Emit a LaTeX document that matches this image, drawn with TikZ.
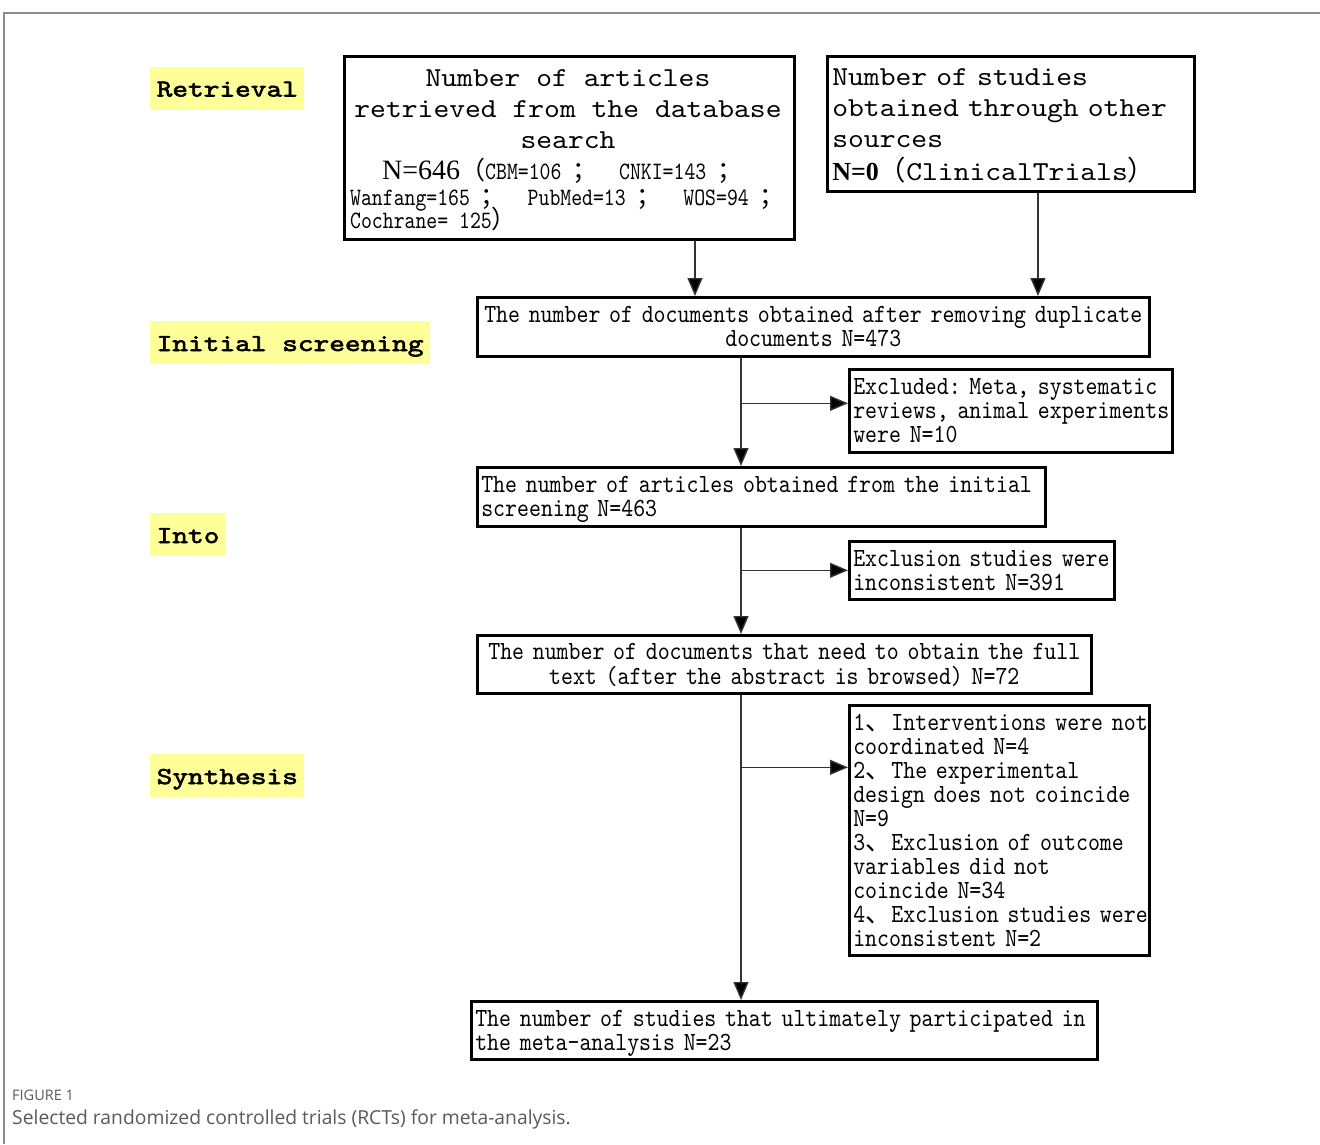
\documentclass[tikz,border=0pt]{standalone}
\usepackage{fontspec}
\usetikzlibrary{arrows.meta}
\newfontfamily\smono[FakeStretch=0.868]{lmmono10-regular.otf}
\newfontfamily\tmono[FakeStretch=0.83]{lmmono10-regular.otf}
\newfontfamily\bmono[FakeStretch=1.1]{lmmono10-regular.otf}
\newfontfamily\lmono[FakeStretch=1.23,FakeBold=2.5]{lmmono10-regular.otf}
\newfontfamily\cjk{Noto Sans CJK SC}
\newfontfamily\tnr{Liberation Serif}
\newfontfamily\capfont{Open Sans}
\newcommand\myS{\smono\fontsize{26.2}{24}\selectfont}
\newcommand\myT{\tmono\fontsize{25}{24}\selectfont}
\newcommand\myB{\bmono\fontsize{27.4}{31}\selectfont}
\newcommand\myL{\lmono\fontsize{24.3}{26}\selectfont}
\newcommand\lefttab[1]{\raisebox{-3pt}[\height][\depth]{\begin{tabular}{@{}l@{}}#1\end{tabular}}}
\newcommand\centtab[1]{\raisebox{-3pt}[\height][\depth]{\begin{tabular}{@{}c@{}}#1\end{tabular}}}
\definecolor{hl}{HTML}{FFFF99}
\definecolor{frame}{HTML}{8C8C8C}
\definecolor{conn}{HTML}{333333}
\definecolor{captxt}{HTML}{5A5A5A}
\begin{document}
\frenchspacing
\begin{tikzpicture}[x=1pt,y=-1pt,
  box/.style={draw=black, line width=2.6pt, rectangle, anchor=north west,
    inner xsep=4pt, inner ysep=0pt, font=\myS},
  lab/.style={fill=hl, font=\myL, anchor=west, minimum height=43pt,
    inner xsep=6.5pt, inner ysep=0pt, text height=18pt, text depth=1pt},
  arr/.style={draw=conn, line width=1.4pt, -{Triangle[length=18pt,width=15pt,fill=black]}}
]
\useasboundingbox[fill=white] (0,0) rectangle (1320,1144);
% outer frame
\draw[frame, line width=2pt] (4,1144) -- (4,13) -- (1320,13);

% stage labels
\node[lab] (lret) at (150,88) {Retrieval};
\node[lab] (lini) at (150,342.5) {Initial screening};
\node[lab] (linto) at (150,534.5) {Into};
\node[lab] (lsyn) at (150,775.5) {Synthesis};

% box 1: database search
\node[box, minimum width=450pt, minimum height=183pt] (db) at (343,55) {};
\node[anchor=base, font=\myB] (dbt1) at (568,86) {Number of articles};
\node[anchor=base, font=\myB] (dbt2) at (568,117) {retrieved from the database};
\node[anchor=base, font=\myB] (dbt3) at (568,148) {search};
\node[anchor=base west, font=\myT, inner sep=0pt] (dbt4) at (382,179)
  {{\tnr\fontsize{28}{28}\selectfont N=646}{\cjk（}CBM=106~{\cjk；}~~CNKI=143~{\cjk；}};
\node[anchor=base west, font=\myT, inner sep=0pt] (dbt5) at (350,205)
  {Wanfang=165~{\cjk；}~~PubMed=13~{\cjk；}~~WOS=94~{\cjk；}};
\node[anchor=base west, font=\myT, inner sep=0pt] (dbt6) at (350,228)
  {Cochrane=~125{\cjk）}};

% box 2: other sources
\node[box, font=\myB, inner xsep=5pt, minimum width=367pt, minimum height=135pt,
  text width=357pt, align=left] (other) at (826,55)
  {\lefttab{Number of studies\\obtained through other\\sources\\{\tnr\bfseries\fontsize{26}{26}\selectfont N=0}{\cjk（}ClinicalTrials{\cjk）}}};

% main flow boxes
\node[box, minimum width=672pt, minimum height=59pt, text width=664pt, align=center] (dup) at (476,296)
  {\centtab{The number of documents obtained after removing duplicate\\documents N=473}};
\node[box, minimum width=323pt, minimum height=83pt, text width=315pt, align=left] (ex1) at (848,368)
  {\lefttab{Excluded: Meta, systematic\\reviews, animal experiments\\were N=10}};
\node[box, minimum width=568pt, minimum height=59pt, text width=560pt, align=left] (init) at (476,466)
  {\lefttab{The number of articles obtained from the initial\\screening N=463}};
\node[box, minimum width=265pt, minimum height=58pt, text width=257pt, align=left] (ex2) at (848,540)
  {\lefttab{Exclusion studies were\\inconsistent N=391}};
\node[box, minimum width=614pt, minimum height=58pt, text width=606pt, align=center] (full) at (476,634)
  {\centtab{The number of documents that need to obtain the full\\text (after the abstract is browsed) N=72}};
\node[box, minimum width=300pt, minimum height=250pt, text width=292pt, align=left] (ex3) at (848,704)
  {\lefttab{1{\cjk 、}Interventions were not\\coordinated N=4\\2{\cjk 、}The experimental\\design does not coincide\\N=9\\3{\cjk 、}Exclusion of outcome\\variables did not\\coincide N=34\\4{\cjk 、}Exclusion studies were\\inconsistent N=2}};
\node[box, minimum width=626pt, minimum height=58pt, text width=618pt, align=left] (final) at (470,1000)
  {\lefttab{The number of studies that ultimately participated in\\the meta-analysis N=23}};

% connectors
\coordinate (c1) at (695,0);
\coordinate (c2) at (1038,0);
\coordinate (spine) at (741,0);
\draw[arr] (db.south -| c1) -- (dup.north -| c1);
\draw[arr] (other.south -| c2) -- (dup.north -| c2);
\draw[arr] (dup.south -| spine) -- (init.north -| spine);
\draw[arr] (spine |- ex1.west) ++(0,-7.5) -- ([yshift=7.5pt]ex1.west);
\draw[arr] (init.south -| spine) -- (full.north -| spine);
\draw[arr] (spine |- ex2.west) -- (ex2.west);
\draw[arr] (full.south -| spine) -- (final.north -| spine);
\draw[arr] (spine |- ex3.west) ++(0,-63) -- ([yshift=63pt]ex3.west);

% caption
\node[anchor=base west, inner sep=0pt, text=captxt, font={\capfont\fontsize{14.5}{16}\selectfont}] (figlbl) at (12,1100) {FIGURE 1};
\node[anchor=base west, inner sep=0pt, text=captxt, font={\capfont\fontsize{19.3}{22}\selectfont}] (figcap) at (12,1124) {Selected randomized controlled trials (RCTs) for meta-analysis.};
\end{tikzpicture}
\end{document}
